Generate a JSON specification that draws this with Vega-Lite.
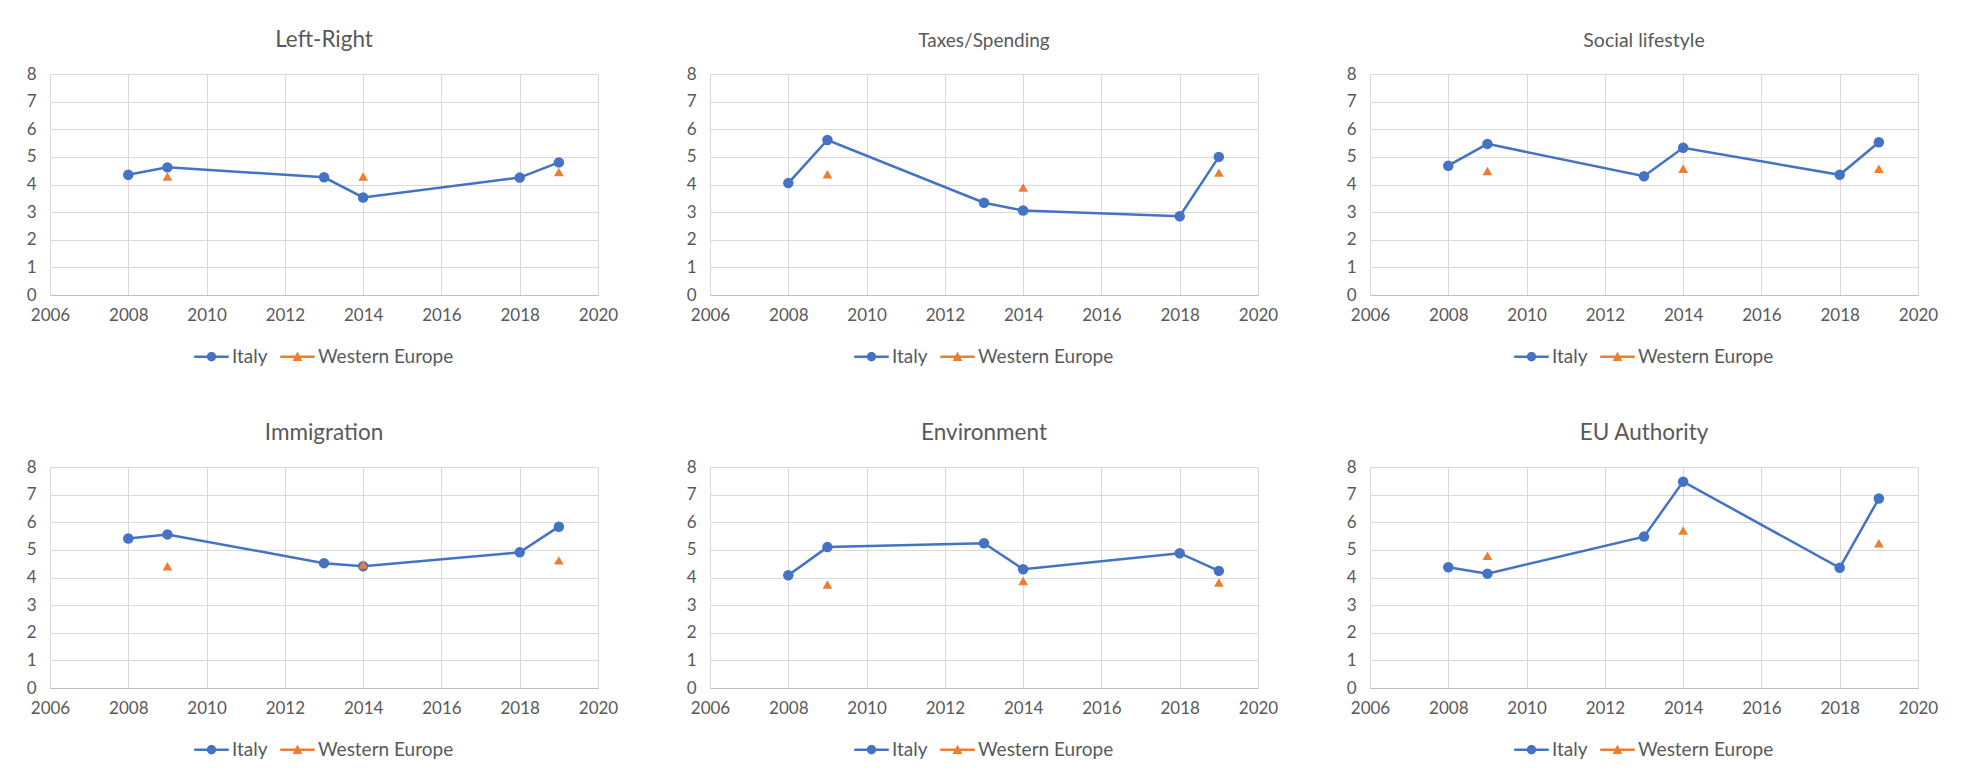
{
  "$schema": "https://vega.github.io/schema/vega-lite/v6.json",
  "padding": {"left": 26, "top": 28, "right": 5, "bottom": 0},
  "background": "white",
  "data": {"values": [
    {"topic": "Left-Right", "year": 2008, "series": "Italy", "value": 4.35},
    {"topic": "Left-Right", "year": 2009, "series": "Italy", "value": 4.62},
    {"topic": "Left-Right", "year": 2013, "series": "Italy", "value": 4.26},
    {"topic": "Left-Right", "year": 2014, "series": "Italy", "value": 3.53},
    {"topic": "Left-Right", "year": 2018, "series": "Italy", "value": 4.25},
    {"topic": "Left-Right", "year": 2019, "series": "Italy", "value": 4.8},
    {"topic": "Left-Right", "year": 2009, "series": "Western Europe", "value": 4.29},
    {"topic": "Left-Right", "year": 2014, "series": "Western Europe", "value": 4.29},
    {"topic": "Left-Right", "year": 2019, "series": "Western Europe", "value": 4.45},
    {"topic": "Taxes/Spending", "year": 2008, "series": "Italy", "value": 4.05},
    {"topic": "Taxes/Spending", "year": 2009, "series": "Italy", "value": 5.61},
    {"topic": "Taxes/Spending", "year": 2013, "series": "Italy", "value": 3.34},
    {"topic": "Taxes/Spending", "year": 2014, "series": "Italy", "value": 3.06},
    {"topic": "Taxes/Spending", "year": 2018, "series": "Italy", "value": 2.85},
    {"topic": "Taxes/Spending", "year": 2019, "series": "Italy", "value": 5.0},
    {"topic": "Taxes/Spending", "year": 2009, "series": "Western Europe", "value": 4.37},
    {"topic": "Taxes/Spending", "year": 2014, "series": "Western Europe", "value": 3.89},
    {"topic": "Taxes/Spending", "year": 2019, "series": "Western Europe", "value": 4.43},
    {"topic": "Social lifestyle", "year": 2008, "series": "Italy", "value": 4.68},
    {"topic": "Social lifestyle", "year": 2009, "series": "Italy", "value": 5.47},
    {"topic": "Social lifestyle", "year": 2013, "series": "Italy", "value": 4.3},
    {"topic": "Social lifestyle", "year": 2014, "series": "Italy", "value": 5.33},
    {"topic": "Social lifestyle", "year": 2018, "series": "Italy", "value": 4.35},
    {"topic": "Social lifestyle", "year": 2019, "series": "Italy", "value": 5.53},
    {"topic": "Social lifestyle", "year": 2009, "series": "Western Europe", "value": 4.49},
    {"topic": "Social lifestyle", "year": 2014, "series": "Western Europe", "value": 4.57},
    {"topic": "Social lifestyle", "year": 2019, "series": "Western Europe", "value": 4.57},
    {"topic": "Immigration", "year": 2008, "series": "Italy", "value": 5.41},
    {"topic": "Immigration", "year": 2009, "series": "Italy", "value": 5.56},
    {"topic": "Immigration", "year": 2013, "series": "Italy", "value": 4.52},
    {"topic": "Immigration", "year": 2014, "series": "Italy", "value": 4.41},
    {"topic": "Immigration", "year": 2018, "series": "Italy", "value": 4.91},
    {"topic": "Immigration", "year": 2019, "series": "Italy", "value": 5.84},
    {"topic": "Immigration", "year": 2009, "series": "Western Europe", "value": 4.41},
    {"topic": "Immigration", "year": 2014, "series": "Western Europe", "value": 4.47},
    {"topic": "Immigration", "year": 2019, "series": "Western Europe", "value": 4.62},
    {"topic": "Environment", "year": 2008, "series": "Italy", "value": 4.08},
    {"topic": "Environment", "year": 2009, "series": "Italy", "value": 5.1},
    {"topic": "Environment", "year": 2013, "series": "Italy", "value": 5.24},
    {"topic": "Environment", "year": 2014, "series": "Italy", "value": 4.3},
    {"topic": "Environment", "year": 2018, "series": "Italy", "value": 4.88},
    {"topic": "Environment", "year": 2019, "series": "Italy", "value": 4.24},
    {"topic": "Environment", "year": 2009, "series": "Western Europe", "value": 3.75},
    {"topic": "Environment", "year": 2014, "series": "Western Europe", "value": 3.87},
    {"topic": "Environment", "year": 2019, "series": "Western Europe", "value": 3.82},
    {"topic": "EU Authority", "year": 2008, "series": "Italy", "value": 4.37},
    {"topic": "EU Authority", "year": 2009, "series": "Italy", "value": 4.14},
    {"topic": "EU Authority", "year": 2013, "series": "Italy", "value": 5.48},
    {"topic": "EU Authority", "year": 2014, "series": "Italy", "value": 7.47},
    {"topic": "EU Authority", "year": 2018, "series": "Italy", "value": 4.35},
    {"topic": "EU Authority", "year": 2019, "series": "Italy", "value": 6.86},
    {"topic": "EU Authority", "year": 2009, "series": "Western Europe", "value": 4.79},
    {"topic": "EU Authority", "year": 2014, "series": "Western Europe", "value": 5.7},
    {"topic": "EU Authority", "year": 2019, "series": "Western Europe", "value": 5.24}
  ]},
  "columns": 3,
  "spacing": {"column": 68, "row": 54},
  "resolve": {"scale": {"color": "independent", "shape": "independent"}, "legend": {"color": "independent", "shape": "independent"}},
  "concat": [
    {
      "title": {"text": "Left-Right", "fontSize": 22.5},
      "width": 548, "height": 221,
      "transform": [{"filter": "datum.topic === 'Left-Right'"}],
      "encoding": {
        "x": {"field": "year", "type": "quantitative", "title": null, "scale": {"domain": [2006, 2020], "nice": false, "zero": false}, "axis": {"values": [2006, 2008, 2010, 2012, 2014, 2016, 2018, 2020], "format": "d"}},
        "y": {"field": "value", "type": "quantitative", "title": null, "scale": {"domain": [0, 8], "nice": false}, "axis": {"values": [0, 1, 2, 3, 4, 5, 6, 7, 8]}}
      },
      "layer": [
        {"transform": [{"filter": "datum.series === 'Italy'"}], "mark": {"type": "line", "color": "#4472C4", "strokeWidth": 2.5, "point": {"filled": true, "size": 110, "color": "#4472C4", "opacity": 1}}},
        {"transform": [{"filter": "datum.series === 'Western Europe'"}], "mark": {"type": "point", "shape": "triangle-up", "filled": true, "size": 95, "color": "#ED7D31", "opacity": 1}},
        {"transform": [{"filter": "datum.value < -100"}], "mark": {"type": "point", "filled": true, "opacity": 1, "size": 1190},
         "encoding": {
           "color": {"field": "series", "type": "nominal", "title": null, "scale": {"domain": ["Italy", "Western Europe"], "range": ["#4472C4", "#ED7D31"]}},
           "shape": {"field": "series", "type": "nominal", "title": null, "scale": {"domain": ["Italy", "Western Europe"], "range": ["M-1,-0.07L1,-0.07L1,0.07L-1,0.07Z M0.27,0A0.27,0.27,0,1,1,-0.27,0A0.27,0.27,0,1,1,0.27,0Z", "M-1,-0.07L1,-0.07L1,0.07L-1,0.07Z M0,-0.3L0.28,0.24L-0.28,0.24Z"]}}
         }}
      ]
    },
    {
      "title": {"text": "Taxes/Spending", "fontSize": 19},
      "width": 548, "height": 221,
      "transform": [{"filter": "datum.topic === 'Taxes/Spending'"}],
      "encoding": {
        "x": {"field": "year", "type": "quantitative", "title": null, "scale": {"domain": [2006, 2020], "nice": false, "zero": false}, "axis": {"values": [2006, 2008, 2010, 2012, 2014, 2016, 2018, 2020], "format": "d"}},
        "y": {"field": "value", "type": "quantitative", "title": null, "scale": {"domain": [0, 8], "nice": false}, "axis": {"values": [0, 1, 2, 3, 4, 5, 6, 7, 8]}}
      },
      "layer": [
        {"transform": [{"filter": "datum.series === 'Italy'"}], "mark": {"type": "line", "color": "#4472C4", "strokeWidth": 2.5, "point": {"filled": true, "size": 110, "color": "#4472C4", "opacity": 1}}},
        {"transform": [{"filter": "datum.series === 'Western Europe'"}], "mark": {"type": "point", "shape": "triangle-up", "filled": true, "size": 95, "color": "#ED7D31", "opacity": 1}},
        {"transform": [{"filter": "datum.value < -100"}], "mark": {"type": "point", "filled": true, "opacity": 1, "size": 1190},
         "encoding": {
           "color": {"field": "series", "type": "nominal", "title": null, "scale": {"domain": ["Italy", "Western Europe"], "range": ["#4472C4", "#ED7D31"]}},
           "shape": {"field": "series", "type": "nominal", "title": null, "scale": {"domain": ["Italy", "Western Europe"], "range": ["M-1,-0.07L1,-0.07L1,0.07L-1,0.07Z M0.27,0A0.27,0.27,0,1,1,-0.27,0A0.27,0.27,0,1,1,0.27,0Z", "M-1,-0.07L1,-0.07L1,0.07L-1,0.07Z M0,-0.3L0.28,0.24L-0.28,0.24Z"]}}
         }}
      ]
    },
    {
      "title": {"text": "Social lifestyle", "fontSize": 19.5},
      "width": 548, "height": 221,
      "transform": [{"filter": "datum.topic === 'Social lifestyle'"}],
      "encoding": {
        "x": {"field": "year", "type": "quantitative", "title": null, "scale": {"domain": [2006, 2020], "nice": false, "zero": false}, "axis": {"values": [2006, 2008, 2010, 2012, 2014, 2016, 2018, 2020], "format": "d"}},
        "y": {"field": "value", "type": "quantitative", "title": null, "scale": {"domain": [0, 8], "nice": false}, "axis": {"values": [0, 1, 2, 3, 4, 5, 6, 7, 8]}}
      },
      "layer": [
        {"transform": [{"filter": "datum.series === 'Italy'"}], "mark": {"type": "line", "color": "#4472C4", "strokeWidth": 2.5, "point": {"filled": true, "size": 110, "color": "#4472C4", "opacity": 1}}},
        {"transform": [{"filter": "datum.series === 'Western Europe'"}], "mark": {"type": "point", "shape": "triangle-up", "filled": true, "size": 95, "color": "#ED7D31", "opacity": 1}},
        {"transform": [{"filter": "datum.value < -100"}], "mark": {"type": "point", "filled": true, "opacity": 1, "size": 1190},
         "encoding": {
           "color": {"field": "series", "type": "nominal", "title": null, "scale": {"domain": ["Italy", "Western Europe"], "range": ["#4472C4", "#ED7D31"]}},
           "shape": {"field": "series", "type": "nominal", "title": null, "scale": {"domain": ["Italy", "Western Europe"], "range": ["M-1,-0.07L1,-0.07L1,0.07L-1,0.07Z M0.27,0A0.27,0.27,0,1,1,-0.27,0A0.27,0.27,0,1,1,0.27,0Z", "M-1,-0.07L1,-0.07L1,0.07L-1,0.07Z M0,-0.3L0.28,0.24L-0.28,0.24Z"]}}
         }}
      ]
    },
    {
      "title": {"text": "Immigration", "fontSize": 22.5},
      "width": 548, "height": 221,
      "transform": [{"filter": "datum.topic === 'Immigration'"}],
      "encoding": {
        "x": {"field": "year", "type": "quantitative", "title": null, "scale": {"domain": [2006, 2020], "nice": false, "zero": false}, "axis": {"values": [2006, 2008, 2010, 2012, 2014, 2016, 2018, 2020], "format": "d"}},
        "y": {"field": "value", "type": "quantitative", "title": null, "scale": {"domain": [0, 8], "nice": false}, "axis": {"values": [0, 1, 2, 3, 4, 5, 6, 7, 8]}}
      },
      "layer": [
        {"transform": [{"filter": "datum.series === 'Italy'"}], "mark": {"type": "line", "color": "#4472C4", "strokeWidth": 2.5, "point": {"filled": true, "size": 110, "color": "#4472C4", "opacity": 1}}},
        {"transform": [{"filter": "datum.series === 'Western Europe'"}], "mark": {"type": "point", "shape": "triangle-up", "filled": true, "size": 95, "color": "#ED7D31", "opacity": 1}},
        {"transform": [{"filter": "datum.value < -100"}], "mark": {"type": "point", "filled": true, "opacity": 1, "size": 1190},
         "encoding": {
           "color": {"field": "series", "type": "nominal", "title": null, "scale": {"domain": ["Italy", "Western Europe"], "range": ["#4472C4", "#ED7D31"]}},
           "shape": {"field": "series", "type": "nominal", "title": null, "scale": {"domain": ["Italy", "Western Europe"], "range": ["M-1,-0.07L1,-0.07L1,0.07L-1,0.07Z M0.27,0A0.27,0.27,0,1,1,-0.27,0A0.27,0.27,0,1,1,0.27,0Z", "M-1,-0.07L1,-0.07L1,0.07L-1,0.07Z M0,-0.3L0.28,0.24L-0.28,0.24Z"]}}
         }}
      ]
    },
    {
      "title": {"text": "Environment", "fontSize": 22.5},
      "width": 548, "height": 221,
      "transform": [{"filter": "datum.topic === 'Environment'"}],
      "encoding": {
        "x": {"field": "year", "type": "quantitative", "title": null, "scale": {"domain": [2006, 2020], "nice": false, "zero": false}, "axis": {"values": [2006, 2008, 2010, 2012, 2014, 2016, 2018, 2020], "format": "d"}},
        "y": {"field": "value", "type": "quantitative", "title": null, "scale": {"domain": [0, 8], "nice": false}, "axis": {"values": [0, 1, 2, 3, 4, 5, 6, 7, 8]}}
      },
      "layer": [
        {"transform": [{"filter": "datum.series === 'Italy'"}], "mark": {"type": "line", "color": "#4472C4", "strokeWidth": 2.5, "point": {"filled": true, "size": 110, "color": "#4472C4", "opacity": 1}}},
        {"transform": [{"filter": "datum.series === 'Western Europe'"}], "mark": {"type": "point", "shape": "triangle-up", "filled": true, "size": 95, "color": "#ED7D31", "opacity": 1}},
        {"transform": [{"filter": "datum.value < -100"}], "mark": {"type": "point", "filled": true, "opacity": 1, "size": 1190},
         "encoding": {
           "color": {"field": "series", "type": "nominal", "title": null, "scale": {"domain": ["Italy", "Western Europe"], "range": ["#4472C4", "#ED7D31"]}},
           "shape": {"field": "series", "type": "nominal", "title": null, "scale": {"domain": ["Italy", "Western Europe"], "range": ["M-1,-0.07L1,-0.07L1,0.07L-1,0.07Z M0.27,0A0.27,0.27,0,1,1,-0.27,0A0.27,0.27,0,1,1,0.27,0Z", "M-1,-0.07L1,-0.07L1,0.07L-1,0.07Z M0,-0.3L0.28,0.24L-0.28,0.24Z"]}}
         }}
      ]
    },
    {
      "title": {"text": "EU Authority", "fontSize": 22.5},
      "width": 548, "height": 221,
      "transform": [{"filter": "datum.topic === 'EU Authority'"}],
      "encoding": {
        "x": {"field": "year", "type": "quantitative", "title": null, "scale": {"domain": [2006, 2020], "nice": false, "zero": false}, "axis": {"values": [2006, 2008, 2010, 2012, 2014, 2016, 2018, 2020], "format": "d"}},
        "y": {"field": "value", "type": "quantitative", "title": null, "scale": {"domain": [0, 8], "nice": false}, "axis": {"values": [0, 1, 2, 3, 4, 5, 6, 7, 8]}}
      },
      "layer": [
        {"transform": [{"filter": "datum.series === 'Italy'"}], "mark": {"type": "line", "color": "#4472C4", "strokeWidth": 2.5, "point": {"filled": true, "size": 110, "color": "#4472C4", "opacity": 1}}},
        {"transform": [{"filter": "datum.series === 'Western Europe'"}], "mark": {"type": "point", "shape": "triangle-up", "filled": true, "size": 95, "color": "#ED7D31", "opacity": 1}},
        {"transform": [{"filter": "datum.value < -100"}], "mark": {"type": "point", "filled": true, "opacity": 1, "size": 1190},
         "encoding": {
           "color": {"field": "series", "type": "nominal", "title": null, "scale": {"domain": ["Italy", "Western Europe"], "range": ["#4472C4", "#ED7D31"]}},
           "shape": {"field": "series", "type": "nominal", "title": null, "scale": {"domain": ["Italy", "Western Europe"], "range": ["M-1,-0.07L1,-0.07L1,0.07L-1,0.07Z M0.27,0A0.27,0.27,0,1,1,-0.27,0A0.27,0.27,0,1,1,0.27,0Z", "M-1,-0.07L1,-0.07L1,0.07L-1,0.07Z M0,-0.3L0.28,0.24L-0.28,0.24Z"]}}
         }}
      ]
    }
  ],
  "config": {
    "font": "Lato",
    "view": {"stroke": null},
    "title": {"font": "Lato", "fontWeight": "normal", "color": "#595959", "offset": 14, "anchor": "middle"},
    "axis": {"labelFont": "Lato", "labelFontSize": 17, "labelColor": "#595959", "gridColor": "#D9D9D9", "gridWidth": 1, "ticks": false, "domain": false, "labelFlush": false},
    "axisX": {"domain": true, "domainColor": "#BFBFBF", "domainWidth": 1, "labelPadding": 12},
    "axisY": {"labelPadding": 14},
    "legend": {"orient": "bottom", "direction": "horizontal", "symbolSize": 1190, "labelFont": "Lato", "labelFontSize": 19, "labelColor": "#595959", "labelOffset": 3, "columnPadding": 12, "offset": 16, "symbolStrokeWidth": 0, "layout": {"bottom": {"anchor": "middle"}}}
  }
}
